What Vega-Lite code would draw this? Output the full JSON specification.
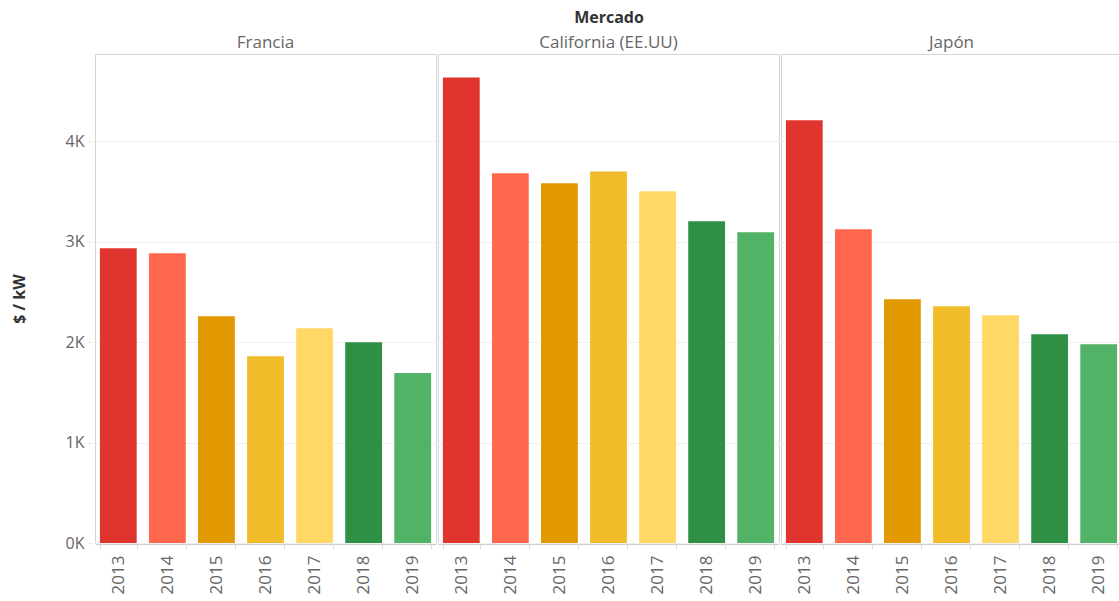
{
  "$schema": "https://vega.github.io/schema/vega-lite/v6.json",
  "padding": {"left": 11, "top": 10, "right": 0, "bottom": 0},
  "background": "#ffffff",
  "data": {"values": [
    {"Mercado": "Francia", "Año": "2013", "Costo": 2935},
    {"Mercado": "Francia", "Año": "2014", "Costo": 2885},
    {"Mercado": "Francia", "Año": "2015", "Costo": 2259},
    {"Mercado": "Francia", "Año": "2016", "Costo": 1861},
    {"Mercado": "Francia", "Año": "2017", "Costo": 2139},
    {"Mercado": "Francia", "Año": "2018", "Costo": 2000},
    {"Mercado": "Francia", "Año": "2019", "Costo": 1692},
    {"Mercado": "California (EE.UU)", "Año": "2013", "Costo": 4637},
    {"Mercado": "California (EE.UU)", "Año": "2014", "Costo": 3682},
    {"Mercado": "California (EE.UU)", "Año": "2015", "Costo": 3582},
    {"Mercado": "California (EE.UU)", "Año": "2016", "Costo": 3701},
    {"Mercado": "California (EE.UU)", "Año": "2017", "Costo": 3502},
    {"Mercado": "California (EE.UU)", "Año": "2018", "Costo": 3204},
    {"Mercado": "California (EE.UU)", "Año": "2019", "Costo": 3095},
    {"Mercado": "Japón", "Año": "2013", "Costo": 4209},
    {"Mercado": "Japón", "Año": "2014", "Costo": 3124},
    {"Mercado": "Japón", "Año": "2015", "Costo": 2428},
    {"Mercado": "Japón", "Año": "2016", "Costo": 2358},
    {"Mercado": "Japón", "Año": "2017", "Costo": 2269},
    {"Mercado": "Japón", "Año": "2018", "Costo": 2080},
    {"Mercado": "Japón", "Año": "2019", "Costo": 1980}
  ]},
  "facet": {
    "column": {
      "field": "Mercado",
      "type": "nominal",
      "sort": ["Francia", "California (EE.UU)", "Japón"],
      "header": {
        "title": "Mercado",
        "titleFont": "Open Sans",
        "titleFontSize": 16,
        "titleFontWeight": "bold",
        "titleColor": "#333333",
        "titlePadding": -2,
        "labelFont": "Open Sans",
        "labelFontSize": 17,
        "labelColor": "#666666",
        "labelPadding": 1
      }
    }
  },
  "spacing": 0,
  "spec": {
    "width": 341,
    "height": 489,
    "mark": {"type": "bar"},
    "encoding": {
      "x": {
        "field": "Año",
        "type": "ordinal",
        "scale": {"paddingInner": 0.25, "paddingOuter": 0.1},
        "axis": {
          "title": null,
          "labelAngle": -90,
          "labelFont": "Open Sans",
          "labelFontSize": 17,
          "labelColor": "#666666",
          "labelPadding": 6,
          "domainColor": "#cccccc",
          "tickColor": "#dddddd",
          "tickSize": 5,
          "tickBand": "extent"
        }
      },
      "y": {
        "field": "Costo",
        "type": "quantitative",
        "scale": {"domain": [0, 4870], "nice": false},
        "axis": {
          "title": "$ / kW",
          "titleFont": "Open Sans",
          "titleFontSize": 16,
          "titleFontWeight": "bold",
          "titleColor": "#333333",
          "titlePadding": 38,
          "values": [0, 1000, 2000, 3000, 4000],
          "labelExpr": "datum.value / 1000 + 'K'",
          "labelFont": "Open Sans",
          "labelFontSize": 16,
          "labelColor": "#666666",
          "labelPadding": 3,
          "domain": false,
          "tickColor": "#eeeeee",
          "tickSize": 7,
          "grid": true,
          "gridColor": "#f0f0f0"
        }
      },
      "color": {
        "field": "Año",
        "type": "ordinal",
        "scale": {
          "domain": ["2013", "2014", "2015", "2016", "2017", "2018", "2019"],
          "range": ["#e0352f", "#ff684f", "#e29900", "#f0bc2a", "#ffd865", "#2f9045", "#52b265"]
        },
        "legend": null
      }
    }
  },
  "config": {
    "view": {"stroke": "#d4d4d4"}
  }
}
